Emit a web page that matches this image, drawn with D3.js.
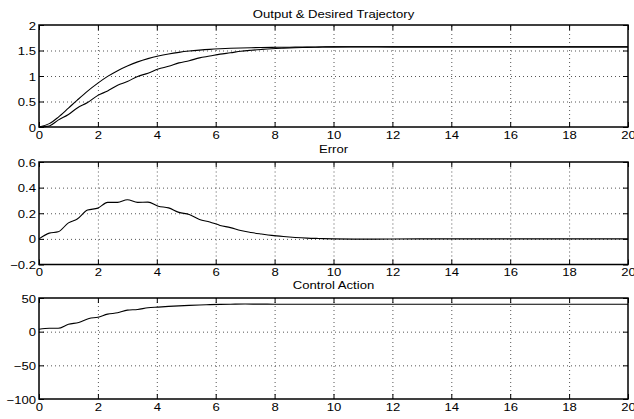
<!DOCTYPE html>
<head>
<style>
body { margin: 0; background: #fff; }
svg { font-family: "Liberation Sans", Arial, Helvetica, sans-serif; font-size: 11px; }
</style>
<script src="https://d3js.org/d3.v7.min.js"></script>
</head>
<body>
<svg id="chart" width="634" height="419"></svg>
<script>

// values
var xTicks = [0, 2, 4, 6, 8, 10, 12, 14, 16, 18, 20];

var timeT = [0, 0.35, 0.65, 1.0, 1.3, 1.65, 2.0, 2.33, 2.67, 3.0, 3.35, 3.7, 4.05, 4.4, 4.75,
             5.1, 5.45, 5.8, 6.15, 6.5, 6.85, 7.2, 7.55, 7.9, 8.3, 8.7, 9.1, 9.5, 10, 11, 12, 14, 16, 18, 20];
var desired = [0, 0.066, 0.19, 0.37, 0.528, 0.704, 0.86, 0.992, 1.105, 1.197, 1.277, 1.341, 1.392, 1.432, 1.464,
               1.489, 1.508, 1.523, 1.534, 1.543, 1.55, 1.555, 1.559, 1.562, 1.564, 1.566, 1.567, 1.5695, 1.5705, 1.5708,
               1.5708, 1.5708, 1.5708, 1.5708, 1.5708];
var output = [0, 0.021, 0.135, 0.245, 0.373, 0.479, 0.62, 0.707, 0.82, 0.892, 0.992, 1.054, 1.137, 1.19, 1.257,
              1.299, 1.356, 1.391, 1.429, 1.455, 1.485, 1.505, 1.521, 1.535, 1.546, 1.555, 1.561, 1.5665, 1.5705, 1.5728,
              1.5718, 1.5708, 1.5708, 1.5708, 1.5708];
var error = [0, 0.045, 0.055, 0.125, 0.155, 0.225, 0.24, 0.285, 0.285, 0.305, 0.285, 0.287, 0.255, 0.242, 0.207,
             0.19, 0.152, 0.132, 0.105, 0.088, 0.065, 0.05, 0.038, 0.027, 0.018, 0.011, 0.006, 0.003, 0, -0.002,
             -0.001, 0, 0, 0, 0];

var controlT = [0, 0.35, 0.65, 1.0, 1.35, 1.7, 2.0, 2.33, 2.67, 3.0, 3.35, 3.7, 4.05, 4.4, 4.75, 5.1, 5.45,
                5.8, 6.15, 6.5, 7, 7.5, 8, 9, 10, 12, 14, 16, 18, 20];
var control = [3.5, 5, 5, 11, 13.5, 19.5, 21.5, 26, 28, 32, 33, 35.5, 36.5, 37.5, 38.3, 39, 39.6,
               40.1, 40.5, 40.8, 41, 40.9, 40.8, 40.7, 40.7, 40.7, 40.7, 40.7, 40.7, 40.7];

var outTicks = [0, 0.5, 1, 1.5, 2];
var errTicks = [-0.2, 0, 0.2, 0.4, 0.6];
var ctlTicks = [-100, -50, 0, 50];

var titles = ["Output & Desired Trajectory", "Error", "Control Action"];

// layout
var left = 39, right = 628;
var sx = 1.19; // text in the picture is stretched horizontally
var panels = [
  { top: 25, bottom: 127, ticks: outTicks, titleY: 17.5,
    series: [[timeT, desired], [timeT, output]] },
  { top: 162, bottom: 264.5, ticks: errTicks, titleY: 153,
    series: [[timeT, error]] },
  { top: 298, bottom: 399, ticks: ctlTicks, titleY: 288.5,
    series: [[controlT, control]] }
];

var svg = d3.select("#chart");
var x = d3.scaleLinear().domain([0, 20]).range([left, right]);

function fmt(v) {
  return (v < 0 ? "\u2212" : "") + d3.format("~g")(Math.abs(v));
}

panels.forEach(function(p, i) {
  var yd = d3.extent(p.ticks);
  var y = d3.scaleLinear().domain(yd).range([p.bottom, p.top]);
  var h = p.bottom - p.top, w = right - left;
  var g = svg.append("g");

  // dotted grid
  g.append("g")
    .attr("transform", "translate(0," + p.bottom + ")")
    .call(d3.axisBottom(x).tickValues(xTicks.slice(1, -1)).tickSize(-h).tickFormat(""))
    .call(function(a) {
      a.select(".domain").remove();
      a.selectAll("line").attr("stroke", "#555").attr("stroke-dasharray", "1,3");
    });
  g.append("g")
    .attr("transform", "translate(" + left + ",0)")
    .call(d3.axisLeft(y).tickValues(p.ticks.slice(1, -1)).tickSize(-w).tickFormat(""))
    .call(function(a) {
      a.select(".domain").remove();
      a.selectAll("line").attr("stroke", "#555").attr("stroke-dasharray", "1,3");
    });

  // data lines
  p.series.forEach(function(s) {
    var pts = s[0].map(function(t, k) { return [t, s[1][k]]; });
    g.append("path")
      .datum(pts)
      .attr("fill", "none")
      .attr("stroke", "#000")
      .attr("stroke-width", 1.1)
      .attr("d", d3.line()
        .curve(d3.curveMonotoneX)
        .x(function(d) { return x(d[0]); })
        .y(function(d) { return y(d[1]); }));
  });

  // inward ticks on all four sides
  var bottomAx = g.append("g").attr("transform", "translate(0," + p.bottom + ")")
    .call(d3.axisBottom(x).tickValues(xTicks).tickSizeInner(-5).tickSizeOuter(0).tickPadding(0).tickFormat(fmt));
  var topAx = g.append("g").attr("transform", "translate(0," + p.top + ")")
    .call(d3.axisTop(x).tickValues(xTicks).tickSizeInner(-5).tickSizeOuter(0).tickFormat(""));
  var leftAx = g.append("g").attr("transform", "translate(" + left + ",0)")
    .call(d3.axisLeft(y).tickValues(p.ticks).tickSizeInner(-5).tickSizeOuter(0).tickFormat(fmt));
  var rightAx = g.append("g").attr("transform", "translate(" + right + ",0)")
    .call(d3.axisRight(y).tickValues(p.ticks).tickSizeInner(-5).tickSizeOuter(0).tickFormat(""));

  [bottomAx, topAx, leftAx, rightAx].forEach(function(a) {
    a.select(".domain").remove();
    a.selectAll("line").attr("stroke", "#000");
    a.attr("font-family", null).attr("font-size", null);
  });

  bottomAx.selectAll("text")
    .attr("fill", "#000")
    .attr("y", 0).attr("dy", null)
    .attr("transform", "translate(0,11.5) scale(" + sx + ",1)");
  leftAx.selectAll("text")
    .attr("fill", "#000")
    .attr("x", 0).attr("dy", null)
    .attr("transform", "translate(-3,4) scale(" + sx + ",1)");

  // box
  g.append("rect")
    .attr("x", left).attr("y", p.top)
    .attr("width", w).attr("height", h)
    .attr("fill", "none").attr("stroke", "#000").attr("stroke-width", 1.5);

  // title
  svg.append("text")
    .attr("text-anchor", "middle")
    .attr("transform", "translate(" + ((left + right) / 2) + "," + p.titleY + ") scale(" + sx + ",1)")
    .text(titles[i]);
});

</script>
</body>
</html>
